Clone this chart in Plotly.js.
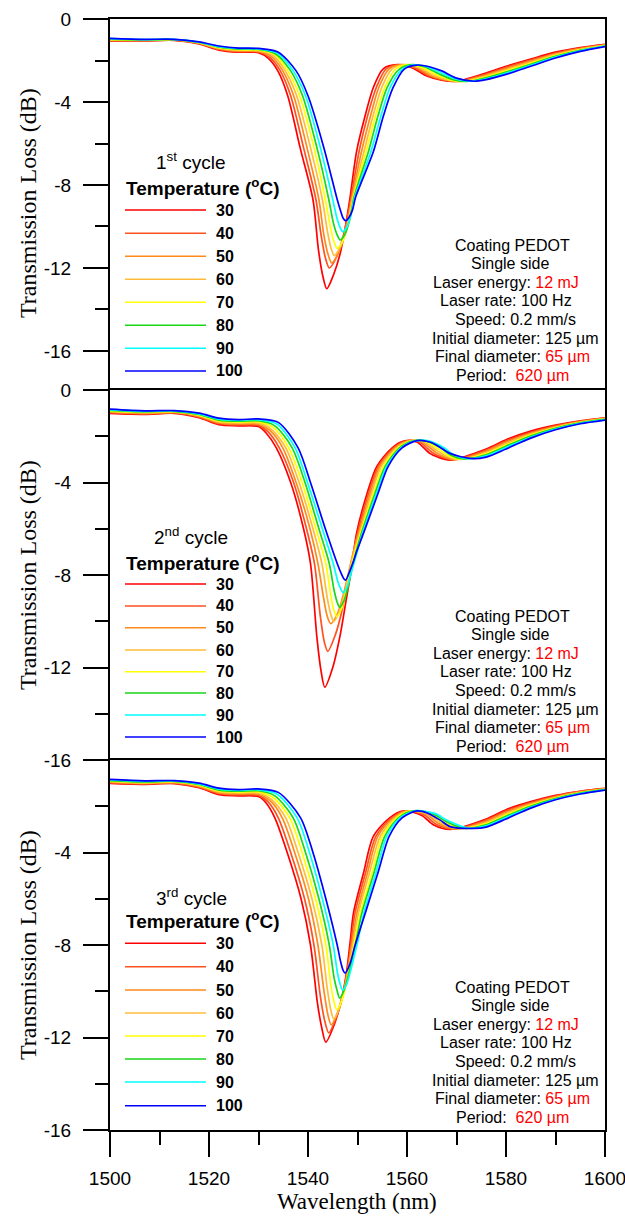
<!DOCTYPE html>
<html>
<head>
<meta charset="utf-8">
<script src="https://cdn.plot.ly/plotly-3.0.1.min.js"></script>
<style>html,body{margin:0;padding:0;background:#fff;}#chart{width:625px;height:1218px;}</style>
</head>
<body>
<div id="chart"></div>
<script>
// ---------------- DATA ----------------
const temps = [30, 40, 50, 60, 70, 80, 90, 100];
const xTicks = [1500, 1520, 1540, 1560, 1580, 1600];

// ---- 1st cycle ----
const c1_wl_30 = [1500,1507,1513,1518,1522,1526,1530,1532,1533.9,1535.9,1538.4,1541.0,1542.1,1543.0,1543.8,1545.2,1546.5,1547.5,1548.5,1549.8,1551.5,1553.2,1555.2,1558,1561,1564,1567,1570,1576,1580,1585,1590,1595,1600];
const c1_tl_30 = [-1.05,-1.05,-1.03,-1.2,-1.5,-1.6,-1.62,-1.9,-2.5,-3.7,-6.2,-8.7,-11.1,-12.4,-13.0,-12.3,-11.3,-10.1,-8.6,-6.4,-4.7,-3.3,-2.4,-2.2,-2.35,-2.75,-2.95,-3.0,-2.6,-2.28,-1.93,-1.6,-1.38,-1.22];
const c1_wl_40 = [1500,1507,1513,1518,1522,1526,1530,1532.3,1534.4,1536.5,1539.1,1541.6,1542.7,1543.5,1544.3,1545.7,1547.3,1548.7,1550.3,1552.0,1553.8,1555.8,1558.6,1561.5,1564.5,1567.5,1570.5,1576,1580,1585,1590,1595,1600];
const c1_tl_40 = [-1.03,-1.04,-1.02,-1.18,-1.47,-1.57,-1.59,-1.85,-2.5,-3.7,-6.2,-8.7,-10.5,-11.5,-12.0,-11.5,-10.3,-8.6,-6.4,-4.7,-3.3,-2.4,-2.2,-2.35,-2.75,-2.95,-3.0,-2.65,-2.33,-1.98,-1.64,-1.41,-1.24];
const c1_wl_50 = [1500,1507,1513,1518,1522,1526,1530,1532.6,1534.9,1537.1,1539.8,1542.2,1543.2,1544.0,1544.8,1546.1,1547.6,1548.9,1550.8,1552.6,1554.3,1556.4,1559.1,1562,1565,1568,1571,1576,1580,1585,1590,1595,1600];
const c1_tl_50 = [-1.02,-1.03,-1.01,-1.17,-1.44,-1.54,-1.56,-1.8,-2.5,-3.7,-6.2,-8.7,-10.4,-11.3,-11.75,-11.3,-10.2,-8.6,-6.4,-4.7,-3.3,-2.4,-2.2,-2.35,-2.75,-2.95,-3.0,-2.7,-2.39,-2.03,-1.68,-1.43,-1.25];
const c1_wl_60 = [1500,1507,1513,1518,1522,1526,1530,1532.9,1535.4,1537.7,1540.5,1542.9,1543.9,1544.6,1545.3,1546.5,1547.9,1549.0,1551.3,1553.1,1554.9,1557.0,1559.7,1562.5,1565.5,1568.5,1571.5,1576,1580,1585,1590,1595,1600];
const c1_tl_60 = [-1.0,-1.02,-1.0,-1.15,-1.41,-1.51,-1.53,-1.75,-2.5,-3.7,-6.2,-8.7,-10.2,-11.0,-11.4,-11.0,-10.0,-8.6,-6.4,-4.7,-3.3,-2.4,-2.2,-2.35,-2.73,-2.95,-3.0,-2.74,-2.45,-2.08,-1.72,-1.46,-1.27];
const c1_wl_70 = [1500,1507,1513,1518,1522,1526,1530,1533.2,1535.9,1538.3,1541.2,1543.5,1544.5,1545.2,1545.9,1547.0,1548.2,1549.2,1551.7,1553.6,1555.5,1557.7,1560.3,1563,1566,1569,1572,1576,1580,1585,1590,1595,1600];
const c1_tl_70 = [-0.99,-1.01,-1.0,-1.14,-1.38,-1.48,-1.5,-1.7,-2.5,-3.7,-6.2,-8.7,-10.0,-10.7,-11.05,-10.7,-9.8,-8.6,-6.4,-4.7,-3.3,-2.4,-2.2,-2.33,-2.7,-2.95,-3.0,-2.79,-2.5,-2.13,-1.76,-1.48,-1.28];
const c1_wl_80 = [1500,1507,1513,1518,1522,1526,1530,1533.4,1536.5,1538.9,1541.8,1544.2,1545.1,1545.8,1546.5,1547.5,1548.5,1549.3,1552.2,1554.1,1556.0,1558.3,1560.9,1563.5,1566.5,1569.5,1572.5,1576,1580,1585,1590,1595,1600];
const c1_tl_80 = [-0.97,-1.0,-0.99,-1.13,-1.35,-1.45,-1.47,-1.67,-2.5,-3.7,-6.2,-8.7,-9.8,-10.35,-10.65,-10.35,-9.6,-8.6,-6.4,-4.7,-3.3,-2.45,-2.2,-2.3,-2.65,-2.93,-3.0,-2.83,-2.56,-2.18,-1.8,-1.51,-1.3];
const c1_wl_90 = [1500,1507,1513,1518,1522,1526,1530,1533.7,1537.0,1539.5,1542.5,1545.0,1545.8,1546.4,1547.0,1547.9,1548.7,1549.45,1552.7,1554.7,1556.6,1558.9,1561.4,1564,1567,1570,1573,1576,1580,1585,1590,1595,1600];
const c1_tl_90 = [-0.95,-0.99,-0.98,-1.12,-1.33,-1.42,-1.44,-1.63,-2.5,-3.7,-6.2,-8.7,-9.55,-10.0,-10.25,-10.0,-9.4,-8.6,-6.4,-4.7,-3.3,-2.45,-2.21,-2.3,-2.6,-2.9,-3.0,-2.88,-2.61,-2.23,-1.84,-1.53,-1.31];
const c1_wl_100 = [1500,1507,1513,1518,1522,1526,1530,1534,1537.6,1540.0,1543.2,1545.9,1546.6,1547.1,1547.6,1548.3,1549.0,1549.6,1553.2,1555.2,1557.2,1559.5,1562,1564.5,1567,1570,1573.5,1576,1580,1585,1590,1595,1600];
const c1_tl_100 = [-0.93,-0.98,-0.98,-1.1,-1.3,-1.4,-1.42,-1.6,-2.5,-3.7,-6.2,-8.7,-9.26,-9.6,-9.72,-9.55,-9.2,-8.6,-6.4,-4.7,-3.3,-2.4,-2.22,-2.3,-2.5,-2.85,-3.0,-2.92,-2.67,-2.28,-1.88,-1.56,-1.33];

// ---- 2nd cycle ----
const c2_wl_30 = [1500,1507,1513,1518,1522,1526,1530,1531.5,1533.6,1536.5,1539.1,1540.5,1541.8,1542.6,1543.4,1545,1546.5,1547.7,1548.8,1549.8,1551.9,1553.9,1557.0,1559.5,1562,1564.6,1566.2,1568.7,1576,1580,1585,1590,1595,1600];
const c2_tl_30 = [-1.01,-1.05,-1.01,-1.2,-1.5,-1.55,-1.58,-1.85,-2.5,-4.0,-6.0,-7.5,-10.7,-12.1,-12.85,-12.0,-10.6,-9.1,-7.7,-6.2,-4.5,-3.3,-2.5,-2.2,-2.25,-2.74,-2.9,-3.03,-2.55,-2.15,-1.78,-1.52,-1.33,-1.2];
const c2_wl_40 = [1500,1507,1513,1518,1522,1526,1530,1531.9,1534.2,1537.1,1539.7,1541.3,1542.5,1543.3,1544.0,1545.5,1546.9,1548.0,1549.1,1550.0,1552.2,1554.2,1557.3,1559.9,1562.4,1565.1,1566.7,1569.2,1576,1580,1585,1590,1595,1600];
const c2_tl_40 = [-0.98,-1.03,-0.99,-1.17,-1.46,-1.51,-1.53,-1.8,-2.5,-4.0,-6.0,-7.5,-9.8,-10.9,-11.3,-10.6,-9.5,-8.2,-7.1,-6.2,-4.5,-3.3,-2.5,-2.2,-2.24,-2.7,-2.88,-3.02,-2.6,-2.2,-1.83,-1.55,-1.35,-1.21];
const c2_wl_50 = [1500,1507,1513,1518,1522,1526,1530,1532.3,1534.9,1537.6,1540.4,1542.0,1543.2,1543.9,1544.6,1545.9,1547.2,1548.3,1549.3,1550.2,1552.5,1554.5,1557.6,1560.3,1562.8,1565.6,1567.2,1569.7,1576,1580,1585,1590,1595,1600];
const c2_tl_50 = [-0.96,-1.01,-0.97,-1.14,-1.42,-1.47,-1.48,-1.75,-2.5,-4.0,-6.0,-7.5,-9.06,-9.8,-10.1,-9.7,-8.8,-7.8,-6.9,-6.2,-4.5,-3.3,-2.5,-2.2,-2.23,-2.66,-2.86,-3.01,-2.65,-2.26,-1.87,-1.58,-1.37,-1.23];
const c2_wl_60 = [1500,1507,1513,1518,1522,1526,1530,1532.6,1535.5,1538.2,1541.0,1542.8,1543.9,1544.6,1545.2,1546.3,1547.5,1548.5,1549.5,1550.4,1552.8,1554.8,1557.9,1560.7,1563.2,1566.1,1567.7,1570.3,1576,1580,1585,1590,1595,1600];
const c2_tl_60 = [-0.93,-0.98,-0.95,-1.11,-1.38,-1.43,-1.43,-1.7,-2.5,-4.0,-6.0,-7.5,-9.0,-9.7,-10.0,-9.6,-8.7,-7.7,-6.85,-6.2,-4.5,-3.3,-2.5,-2.2,-2.22,-2.62,-2.84,-3.0,-2.7,-2.32,-1.91,-1.61,-1.39,-1.24];
const c2_wl_70 = [1500,1507,1513,1518,1522,1526,1530,1533.0,1536.1,1538.8,1541.6,1543.6,1544.6,1545.2,1545.8,1546.8,1547.8,1548.7,1549.7,1550.6,1553.2,1555.2,1558.2,1561.0,1563.6,1566.6,1568.2,1570.8,1576,1580,1585,1590,1595,1600];
const c2_tl_70 = [-0.91,-0.96,-0.94,-1.09,-1.34,-1.39,-1.38,-1.63,-2.5,-4.0,-6.0,-7.5,-8.88,-9.5,-9.8,-9.45,-8.6,-7.7,-6.85,-6.2,-4.5,-3.3,-2.5,-2.2,-2.21,-2.58,-2.82,-2.99,-2.75,-2.38,-1.95,-1.64,-1.41,-1.26];
const c2_wl_80 = [1500,1507,1513,1518,1522,1526,1530,1533.3,1536.8,1539.4,1542.2,1544.3,1545.25,1545.85,1546.4,1547.3,1548.1,1548.9,1549.9,1550.8,1553.5,1555.6,1558.5,1561.3,1564,1567.1,1568.7,1571.4,1576,1580,1585,1590,1595,1600];
const c2_tl_80 = [-0.88,-0.94,-0.92,-1.06,-1.3,-1.35,-1.33,-1.55,-2.5,-4.0,-6.0,-7.5,-8.64,-9.15,-9.4,-9.1,-8.5,-7.7,-6.85,-6.2,-4.5,-3.3,-2.5,-2.2,-2.21,-2.54,-2.8,-2.98,-2.8,-2.43,-1.99,-1.66,-1.42,-1.27];
const c2_wl_90 = [1500,1507,1513,1518,1522,1526,1530,1533.7,1537.4,1539.9,1542.9,1545.1,1546.0,1546.6,1547.1,1547.9,1548.6,1549.4,1550.2,1551.0,1553.8,1555.9,1558.8,1561.7,1564.4,1567.5,1569.2,1572.1,1576,1580,1585,1590,1595,1600];
const c2_tl_90 = [-0.86,-0.92,-0.9,-1.03,-1.26,-1.31,-1.29,-1.47,-2.5,-4.0,-6.0,-7.5,-8.26,-8.6,-8.76,-8.5,-8.0,-7.4,-6.8,-6.2,-4.5,-3.3,-2.5,-2.2,-2.2,-2.5,-2.77,-2.97,-2.85,-2.49,-2.04,-1.69,-1.44,-1.29];
const c2_wl_100 = [1500,1507,1513,1518,1522,1526,1530,1534,1538.0,1540.5,1543.5,1545.9,1546.7,1547.2,1547.6,1548.5,1549.2,1549.8,1551.2,1554.1,1556.2,1559.0,1562.0,1564.6,1566.5,1568.7,1572.8,1576,1580,1585,1590,1595,1600];
const c2_tl_100 = [-0.83,-0.9,-0.89,-1.0,-1.22,-1.28,-1.25,-1.4,-2.5,-4.0,-6.0,-7.5,-7.93,-8.15,-8.22,-7.8,-7.4,-7.0,-6.2,-4.5,-3.3,-2.5,-2.19,-2.25,-2.45,-2.74,-2.96,-2.9,-2.55,-2.08,-1.72,-1.46,-1.3];

// ---- 3rd cycle ----
const c3_wl_30 = [1500,1507,1513,1518,1522,1526,1530,1531.5,1533.3,1535.8,1538.6,1540.5,1541.9,1542.8,1543.6,1545.2,1546.6,1547.7,1548.5,1549.2,1551.2,1553.2,1556.5,1559.3,1563,1565.3,1568.7,1576,1580,1585,1590,1595,1600];
const c3_tl_30 = [-1.01,-1.05,-1.02,-1.2,-1.5,-1.55,-1.58,-1.85,-2.5,-4.0,-6.0,-8.0,-10.5,-11.6,-12.2,-11.5,-10.5,-9.3,-7.9,-6.6,-4.9,-3.3,-2.5,-2.2,-2.4,-2.8,-3.0,-2.55,-2.15,-1.8,-1.53,-1.35,-1.23];
const c3_wl_40 = [1500,1507,1513,1518,1522,1526,1530,1531.9,1534.0,1536.5,1539.3,1541.2,1542.55,1543.4,1544.2,1545.6,1546.9,1547.9,1548.7,1549.5,1551.6,1553.7,1556.9,1559.7,1563.5,1565.8,1569.2,1576,1580,1585,1590,1595,1600];
const c3_tl_40 = [-0.99,-1.03,-1.0,-1.17,-1.46,-1.51,-1.53,-1.8,-2.5,-4.0,-6.0,-8.0,-10.3,-11.3,-11.8,-11.2,-10.3,-9.2,-7.9,-6.6,-4.9,-3.3,-2.5,-2.2,-2.38,-2.77,-2.99,-2.6,-2.2,-1.84,-1.56,-1.36,-1.24];
const c3_wl_50 = [1500,1507,1513,1518,1522,1526,1530,1532.3,1534.8,1537.3,1540.1,1542.0,1543.2,1544.0,1544.7,1546.0,1547.2,1548.1,1548.9,1549.9,1552.0,1554.1,1557.2,1560.1,1564,1566.3,1569.7,1576,1580,1585,1590,1595,1600];
const c3_tl_50 = [-0.96,-1.01,-0.98,-1.14,-1.42,-1.47,-1.48,-1.75,-2.5,-4.0,-6.0,-8.0,-9.95,-11.0,-11.45,-10.9,-10.0,-9.0,-7.9,-6.6,-4.9,-3.3,-2.5,-2.2,-2.36,-2.74,-2.98,-2.65,-2.26,-1.88,-1.59,-1.38,-1.25];
const c3_wl_60 = [1500,1507,1513,1518,1522,1526,1530,1532.6,1535.5,1538.0,1540.8,1542.8,1543.9,1544.6,1545.2,1546.4,1547.5,1548.3,1549.1,1550.2,1552.4,1554.6,1557.6,1560.5,1564.4,1566.8,1570.2,1576,1580,1585,1590,1595,1600];
const c3_tl_60 = [-0.94,-0.99,-0.96,-1.11,-1.38,-1.43,-1.43,-1.7,-2.5,-4.0,-6.0,-8.0,-9.9,-10.8,-11.2,-10.7,-9.8,-8.9,-7.9,-6.6,-4.9,-3.3,-2.5,-2.2,-2.34,-2.71,-2.97,-2.7,-2.32,-1.92,-1.62,-1.4,-1.26];
const c3_wl_70 = [1500,1507,1513,1518,1522,1526,1530,1533.0,1536.3,1538.8,1541.5,1543.6,1544.6,1545.2,1545.8,1546.9,1547.8,1548.6,1549.4,1550.6,1552.9,1555.0,1557.9,1560.9,1564.8,1567.3,1570.8,1576,1580,1585,1590,1595,1600];
const c3_tl_70 = [-0.91,-0.97,-0.94,-1.09,-1.34,-1.39,-1.38,-1.63,-2.5,-4.0,-6.0,-8.0,-9.7,-10.4,-10.8,-10.35,-9.6,-8.8,-7.9,-6.6,-4.9,-3.3,-2.5,-2.2,-2.33,-2.68,-2.96,-2.75,-2.38,-1.96,-1.65,-1.42,-1.27];
const c3_wl_80 = [1500,1507,1513,1518,1522,1526,1530,1533.3,1537.0,1539.5,1542.2,1544.3,1545.25,1545.85,1546.4,1547.3,1548.1,1548.9,1549.7,1550.9,1553.3,1555.5,1558.3,1561.3,1565.2,1567.8,1571.5,1576,1580,1585,1590,1595,1600];
const c3_tl_80 = [-0.89,-0.95,-0.92,-1.06,-1.3,-1.35,-1.33,-1.55,-2.5,-4.0,-6.0,-8.0,-9.4,-9.95,-10.3,-9.95,-9.35,-8.65,-7.85,-6.6,-4.9,-3.3,-2.5,-2.2,-2.32,-2.65,-2.95,-2.8,-2.43,-2.0,-1.67,-1.43,-1.28];
const c3_wl_90 = [1500,1507,1513,1518,1522,1526,1530,1533.7,1537.8,1540.3,1542.9,1545.1,1545.95,1546.5,1547.0,1547.8,1548.5,1549.2,1550.1,1551.3,1553.7,1555.9,1558.6,1561.7,1565.6,1568.2,1572.4,1576,1580,1585,1590,1595,1600];
const c3_tl_90 = [-0.86,-0.92,-0.9,-1.03,-1.26,-1.31,-1.29,-1.47,-2.5,-4.0,-6.0,-8.0,-9.2,-9.7,-9.95,-9.7,-9.2,-8.6,-7.8,-6.6,-4.9,-3.3,-2.5,-2.2,-2.31,-2.62,-2.95,-2.85,-2.49,-2.04,-1.7,-1.45,-1.29];
const c3_wl_100 = [1500,1507,1513,1518,1522,1526,1530,1534,1538.5,1541.0,1543.6,1545.9,1546.6,1547.1,1547.5,1548.5,1549.4,1550.4,1551.6,1554.1,1556.4,1559.0,1562.0,1564.2,1566.7,1568.7,1573.5,1576,1580,1585,1590,1595,1600];
const c3_tl_100 = [-0.84,-0.9,-0.89,-1.0,-1.22,-1.28,-1.25,-1.4,-2.5,-4.0,-6.0,-8.0,-8.73,-9.1,-9.22,-8.8,-8.1,-7.4,-6.6,-4.9,-3.3,-2.5,-2.2,-2.3,-2.6,-2.88,-2.96,-2.9,-2.55,-2.08,-1.72,-1.47,-1.3];

const cycleNames = ['1<sup>st</sup> cycle', '2<sup>nd</sup> cycle', '3<sup>rd</sup> cycle'];
const infoLines = [
  'Coating PEDOT',
  'Single side',
  'Laser energy: <span style="color:#ff0000">12 mJ</span>',
  'Laser rate: 100 Hz',
  'Speed: 0.2 mm/s',
  'Initial diameter: 125 µm',
  'Final diameter: <span style="color:#ff0000">65 µm</span>',
  'Period:\u00a0 <span style="color:#ff0000">620 µm</span>'
];

// ---------------- STYLE / LAYOUT ----------------
const colors = ['#ff0000', '#ff5020', '#ff8a1c', '#ffbc3a', '#ffff00', '#19d619', '#00ffff', '#0000ff'];
const SANS = 'Liberation Sans, Arial, sans-serif';
const SERIF = 'Liberation Serif, Times New Roman, serif';

const cycles = [
  {wl: [c1_wl_30,c1_wl_40,c1_wl_50,c1_wl_60,c1_wl_70,c1_wl_80,c1_wl_90,c1_wl_100],
   tl: [c1_tl_30,c1_tl_40,c1_tl_50,c1_tl_60,c1_tl_70,c1_tl_80,c1_tl_90,c1_tl_100], xa: 'x', ya: 'y'},
  {wl: [c2_wl_30,c2_wl_40,c2_wl_50,c2_wl_60,c2_wl_70,c2_wl_80,c2_wl_90,c2_wl_100],
   tl: [c2_tl_30,c2_tl_40,c2_tl_50,c2_tl_60,c2_tl_70,c2_tl_80,c2_tl_90,c2_tl_100], xa: 'x2', ya: 'y2'},
  {wl: [c3_wl_30,c3_wl_40,c3_wl_50,c3_wl_60,c3_wl_70,c3_wl_80,c3_wl_90,c3_wl_100],
   tl: [c3_tl_30,c3_tl_40,c3_tl_50,c3_tl_60,c3_tl_70,c3_tl_80,c3_tl_90,c3_tl_100], xa: 'x3', ya: 'y3'}
];

const traces = [];
cycles.forEach(c => {
  temps.forEach((t, i) => {
    traces.push({
      type: 'scatter', mode: 'lines', x: c.wl[i], y: c.tl[i],
      xaxis: c.xa, yaxis: c.ya, name: t + ' °C', showlegend: false, hoverinfo: 'skip',
      line: {color: colors[i], width: 1.7, shape: 'spline', smoothing: 0.8}
    });
  });
});

// pixel helpers (plot area: x 110..605, y 19..1130)
const L = 110, R = 605, T = 19, B = 1130;
const px = v => (v - L) / (R - L);
const py = v => (B - v) / (B - T);

const baseX = {
  range: [1500, 1600], showline: true, linewidth: 2, linecolor: '#000', mirror: false, side: 'top',
  showgrid: false, zeroline: false, ticks: '', showticklabels: false, fixedrange: true
};
const baseY = {
  showline: true, linewidth: 2, linecolor: '#000', mirror: true, showgrid: false, zeroline: false,
  ticks: 'outside', ticklen: 25, tickwidth: 2, tickcolor: '#000', ticklabelstandoff: 8,
  tickfont: {family: SANS, size: 19, color: '#000'},
  minor: {dtick: 2, tick0: 0, ticks: 'outside', ticklen: 13, tickwidth: 2, tickcolor: '#000', showgrid: false},
  fixedrange: true
};
const yLab = v => v.map(n => String(n).replace('\u2212', '-'));

const d1 = 740 / 1111, d2 = 370 / 1111;

const layout = {
  width: 625, height: 1218,
  margin: {l: L, r: 625 - R, t: T, b: 1218 - B, pad: 0},
  paper_bgcolor: '#fff', plot_bgcolor: '#fff', showlegend: false,
  font: {family: SANS, size: 19, color: '#000'},
  xaxis: Object.assign({}, baseX, {anchor: 'y'}),
  xaxis2: Object.assign({}, baseX, {anchor: 'y2'}),
  xaxis3: Object.assign({}, baseX, {
    anchor: 'y3', side: 'bottom', mirror: true, ticks: 'outside', showticklabels: true,
    tickvals: xTicks, ticktext: xTicks.map(String), ticklabeloverflow: 'allow',
    ticklen: 25, tickwidth: 2, tickcolor: '#000', ticklabelstandoff: 5,
    tickfont: {family: SANS, size: 19, color: '#000'},
    minor: {dtick: 10, tick0: 1500, ticks: 'outside', ticklen: 13, tickwidth: 2, tickcolor: '#000', showgrid: false}
  }),
  yaxis: Object.assign({}, baseY, {domain: [d1, 1], anchor: 'x', range: [-17.88, 0],
    tickvals: [0, -4, -8, -12, -16], ticktext: yLab([0, -4, -8, -12, -16])}),
  yaxis2: Object.assign({}, baseY, {domain: [d2, d1], anchor: 'x2', range: [-16, 0],
    tickvals: [0, -4, -8, -12, -16], ticktext: yLab([0, -4, -8, -12, -16])}),
  yaxis3: Object.assign({}, baseY, {domain: [0, d2], anchor: 'x3', range: [-16, 0],
    tickvals: [-4, -8, -12, -16], ticktext: yLab([-4, -8, -12, -16])}),
  shapes: [], annotations: []
};

// axis titles
[203, 575, 945].forEach(cy => {
  layout.annotations.push({xref: 'paper', yref: 'paper', x: px(28), y: py(cy), xanchor: 'center', yanchor: 'middle',
    text: 'Transmission Loss (dB)', textangle: -90, showarrow: false,
    font: {family: SERIF, size: 24, color: '#000'}});
});
layout.annotations.push({xref: 'paper', yref: 'paper', x: px(357), y: py(1201), xanchor: 'center', yanchor: 'middle',
  text: 'Wavelength (nm)', showarrow: false, font: {family: SERIF, size: 23, color: '#000'}});

// legends (lines + labels) for each panel
const legendPos = [
  {title: 161, temp: 187, rows: [210, 233.3, 256.3, 279.3, 302.3, 325.3, 348.3, 371]},
  {title: 536, temp: 562, rows: [584, 606, 627.7, 650, 671.7, 693, 715, 737]},
  {title: 897, temp: 920, rows: [943.3, 966.7, 990, 1013, 1036, 1059, 1082, 1105.7]}
];
legendPos.forEach((lp, ci) => {
  layout.annotations.push({xref: 'paper', yref: 'paper', x: px(191), y: py(lp.title), xanchor: 'center', yanchor: 'middle',
    text: cycleNames[ci], showarrow: false, font: {family: SANS, size: 19, color: '#000'}});
  layout.annotations.push({xref: 'paper', yref: 'paper', x: px(124), y: py(lp.temp), xanchor: 'left', yanchor: 'middle',
    text: '<b>Temperature (<sup>o</sup>C)</b>', showarrow: false, font: {family: SANS, size: 19, color: '#000'}});
  lp.rows.forEach((ry, i) => {
    layout.shapes.push({type: 'line', xref: 'paper', yref: 'paper', x0: px(125), x1: px(206), y0: py(ry), y1: py(ry),
      line: {color: colors[i], width: 1.6}});
    layout.annotations.push({xref: 'paper', yref: 'paper', x: px(214), y: py(ry), xanchor: 'left', yanchor: 'middle',
      text: '<b>' + temps[i] + '</b>', showarrow: false, font: {family: SANS, size: 16, color: '#000'}});
  });
});

// info blocks
const infoTop = [245, 616, 987];
const infoX = [512.5, 509.8, 506, 506, 515, 515.3, 512.5, 512];
infoTop.forEach(top => {
  infoLines.forEach((txt, i) => {
    layout.annotations.push({xref: 'paper', yref: 'paper', x: px(infoX[i]), y: py(top + i * 18.6),
      xanchor: 'center', yanchor: 'middle', text: txt, showarrow: false,
      font: {family: SANS, size: 16, color: '#000'}});
  });
});

Plotly.newPlot('chart', traces, layout, {displayModeBar: false, staticPlot: true});
</script>
</body>
</html>
